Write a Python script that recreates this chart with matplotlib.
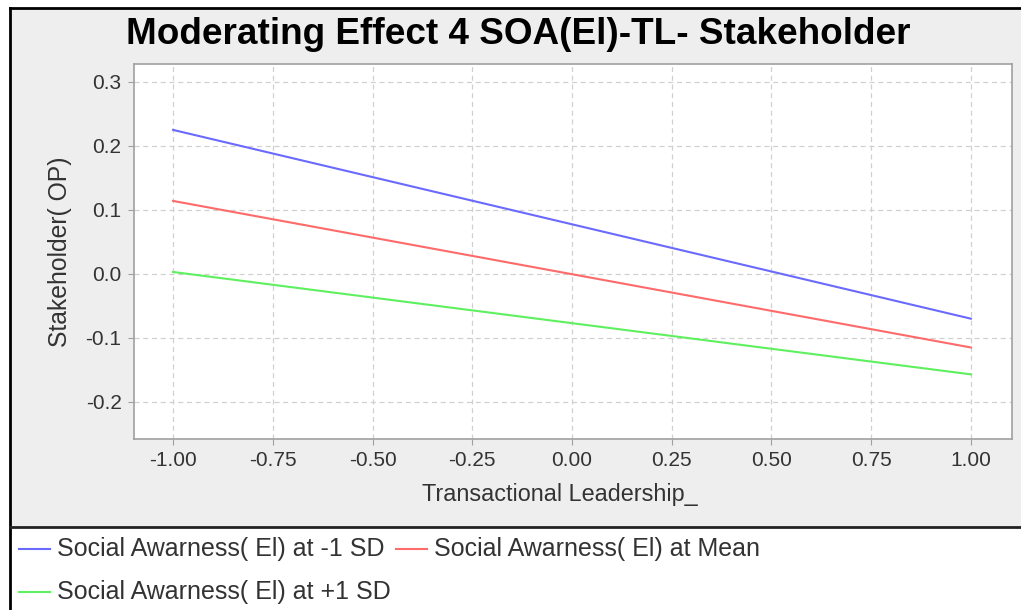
import matplotlib
matplotlib.use("Agg")
import matplotlib.pyplot as plt
from matplotlib.lines import Line2D

plt.rcParams['font.family'] = ['Liberation Sans', 'DejaVu Sans']

# data
x_vals = [-1.0, 1.0]
low_sd = [0.225, -0.070]
mean_vals = [0.114, -0.115]
high_sd = [0.003, -0.157]

series = [
    ('Social Awarness( El) at -1 SD', low_sd, '#6a6aff'),
    ('Social Awarness( El) at Mean', mean_vals, '#ff6a6a'),
    ('Social Awarness( El) at +1 SD', high_sd, '#5ef05e'),
]
x_ticks = [-1.0, -0.75, -0.5, -0.25, 0.0, 0.25, 0.5, 0.75, 1.0]
y_ticks = [-0.2, -0.1, 0.0, 0.1, 0.2, 0.3]

W, H = 1021, 610
fig = plt.figure(figsize=(W / 100, H / 100), dpi=100)
fig.patch.set_facecolor('white')

# gray chart background + frame
bg = plt.Rectangle((10 / W, 1 - 527 / H), 1 - 10 / W, (527 - 8) / H,
                   transform=fig.transFigure, facecolor='#eeeeee',
                   edgecolor='none', zorder=-5)
fig.patches.append(bg)
fig.add_artist(Line2D([10 / W, 1], [1 - 8 / H, 1 - 8 / H], color='black', lw=2))
fig.add_artist(Line2D([10 / W, 10 / W], [0, 1 - 8 / H], color='black', lw=2))
fig.add_artist(Line2D([10 / W, 1], [1 - 527 / H, 1 - 527 / H], color='#222222', lw=2))

# plot area
left, right, top, bottom = 134, 1012, 64, 439
ax = fig.add_axes([left / W, 1 - bottom / H, (right - left) / W, (bottom - top) / H])
ax.set_zorder(3)
ax.set_facecolor('white')
for name, vals, col in series:
    ax.plot(x_vals, vals, color=col, lw=1.5, label=name)

ax.set_xlim(-1.098, 1.103)
ax.set_ylim(-0.258, 0.328)
ax.set_xticks(x_ticks)
ax.set_xticklabels([f'{v:.2f}' for v in x_ticks])
ax.set_yticks(y_ticks)
ax.set_yticklabels([f'{v:.1f}' for v in y_ticks])
ax.grid(True, color='#d0d0d0', linestyle=(0, (4, 3)), lw=0.9)
for s in ax.spines.values():
    s.set_color('#a0a0a0')
    s.set_linewidth(1.2)
ax.tick_params(colors='#a0a0a0', labelcolor='#333333', labelsize=15, length=4, pad=5)
ax.set_xlabel('Transactional Leadership_', fontsize=16.8, color='#333333')
ax.set_ylabel('Stakeholder( OP)', fontsize=17.8, color='#333333')
ax.xaxis.set_label_coords(0.485, -0.149)
ax.xaxis.label.set_va('center')
ax.yaxis.set_label_coords(-0.0843, 0.499)
ax.yaxis.label.set_va('center')

fig.text(518 / W, 1 - 34 / H, 'Moderating Effect 4 SOA(El)-TL- Stakeholder',
         fontsize=26.6, fontweight='bold', ha='center', va='center', color='black')

# legend below chart
legend_pos = [(19, 549), (396, 549), (19, 592)]
for (name, vals, col), (lx, ly) in zip(series, legend_pos):
    fig.add_artist(Line2D([lx / W, (lx + 31) / W], [1 - ly / H, 1 - ly / H], color=col, lw=1.5))
    fig.text((lx + 38) / W, 1 - ly / H, name, fontsize=18, va='center', ha='left', color='#333333')

fig.savefig('out.png', dpi=100)
